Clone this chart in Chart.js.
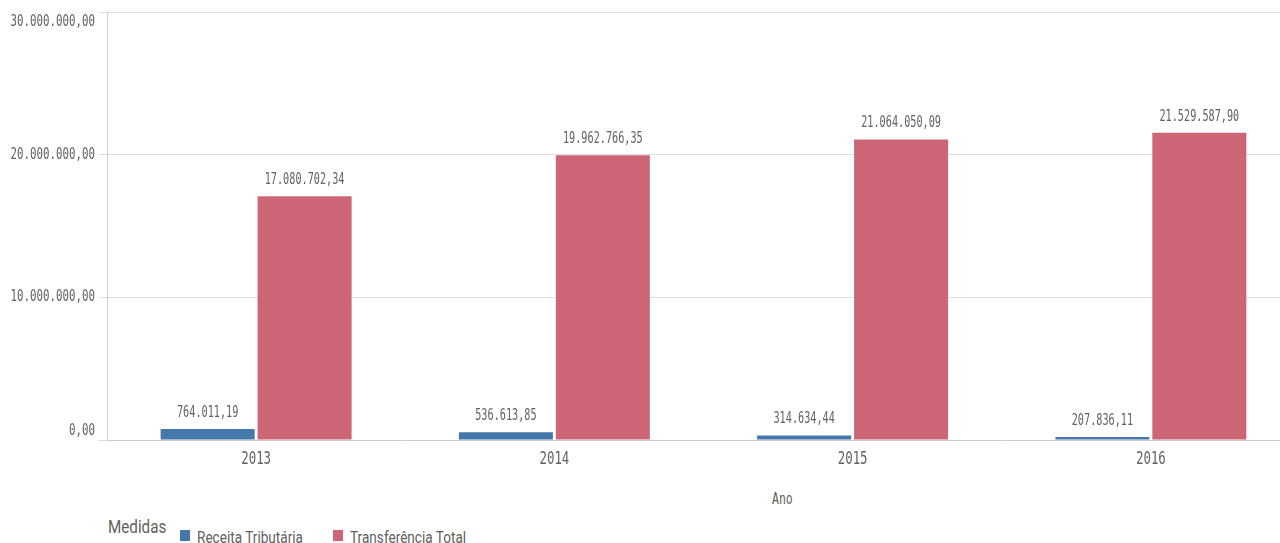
<!DOCTYPE html>
<html>
<head>
<meta charset="utf-8">
<script src="https://cdn.jsdelivr.net/npm/chart.js@4/dist/chart.umd.min.js"></script>
<style>
    body { margin: 0; width: 1280px; height: 543px; overflow: hidden; background: #fff; position: relative; }
    #wrap { position: absolute; left: 0; top: 0; width: 1300px; height: 480px; }
    .cond { position: absolute; transform-origin: 0 50%; white-space: nowrap; line-height: 1; color: #5f5f5f; }
    #ano { left: 772px; top: 489px; font: 16px "DejaVu Sans Mono", monospace; transform: scaleX(0.72); }
    #medidas { left: 108px; top: 515px; font: 19px Roboto, sans-serif; transform: scaleX(0.8); }
    .item { font: 17px Roboto, sans-serif; top: 527px; transform: scaleX(0.8); }
    .box { position: absolute; top: 530px; width: 10px; height: 11px; }
</style>
</head>
<body>
<div id="wrap"><canvas id="chart"></canvas></div>
<div id="ano" class="cond">Ano</div>
<div id="medidas" class="cond">Medidas</div>
<script>
const years = ['2013', '2014', '2015', '2016'];
const receitaTributaria = [764011.19, 536613.85, 314634.44, 207836.11];
const transferenciaTotal = [17080702.34, 19962766.35, 21064050.09, 21529587.90];
const yTicks = [0, 10000000, 20000000, 30000000];
const seriesNames = ['Receita Tributária', 'Transferência Total'];
const seriesColors = ['#4477aa', '#cc6677'];

const fmt = v => v.toLocaleString('pt-BR', { minimumFractionDigits: 2, maximumFractionDigits: 2 });
const textColor = '#626262';

// condensed text, like the Qlik font
function condText(ctx, text, x, y, size, align, sx) {
    ctx.save();
    ctx.font = size + 'px "DejaVu Sans Mono", monospace';
    ctx.textAlign = align;
    ctx.textBaseline = 'middle';
    ctx.translate(x, y);
    ctx.scale(sx, 1);
    ctx.fillText(text, 0, 0);
    ctx.restore();
}

const labelsPlugin = {
    id: 'labels',
    afterDatasetsDraw(chart) {
        const ctx = chart.ctx;
        const area = chart.chartArea;
        ctx.save();
        ctx.fillStyle = textColor;
        // value labels above the bars
        chart.data.datasets.forEach((ds, i) => {
            chart.getDatasetMeta(i).data.forEach((bar, j) => {
                condText(ctx, fmt(ds.data[j]), bar.x, bar.y - 16, 15, 'center', 0.68);
            });
        });
        // y labels, kept inside the plot height
        const y = chart.scales.y;
        yTicks.forEach(v => {
            let py = y.getPixelForValue(v);
            py = Math.min(Math.max(py, area.top + 10), area.bottom - 9);
            condText(ctx, fmt(v), area.left - 12, py, 15, 'right', 0.72);
        });
        // x labels
        const x = chart.scales.x;
        years.forEach((yr, i) => {
            condText(ctx, yr, x.getPixelForValue(i), area.bottom + 20, 17, 'center', 0.73);
        });
        ctx.restore();
    }
};

const chart = new Chart(document.getElementById('chart'), {
    type: 'bar',
    data: {
        labels: years,
        datasets: [
            { label: seriesNames[0], data: receitaTributaria, backgroundColor: seriesColors[0] },
            { label: seriesNames[1], data: transferenciaTotal, backgroundColor: seriesColors[1] }
        ]
    },
    options: {
        responsive: true,
        maintainAspectRatio: false,
        animation: false,
        layout: { padding: { top: 12, right: 0, left: 0, bottom: 0 } },
        datasets: { bar: { categoryPercentage: 0.65, barPercentage: 0.97 } },
        scales: {
            x: {
                grid: { display: false, drawTicks: false },
                border: { color: '#cccccc' },
                ticks: { display: false },
                afterFit: s => { s.height = 40; }
            },
            y: {
                min: 0,
                max: 30000000,
                afterBuildTicks: s => { s.ticks = yTicks.map(v => ({ value: v })); },
                grid: { color: '#dddddd', tickLength: 8 },
                border: { color: '#cccccc' },
                ticks: { display: false },
                afterFit: s => { s.width = 107; }
            }
        },
        plugins: {
            legend: { display: false },
            tooltip: { enabled: false }
        }
    },
    plugins: [labelsPlugin]
});

// legend built from the series arrays
const legendX = [180, 333];
seriesNames.forEach((name, i) => {
    const box = document.createElement('div');
    box.className = 'box';
    box.style.left = legendX[i] + 'px';
    box.style.background = seriesColors[i];
    document.body.appendChild(box);
    const item = document.createElement('div');
    item.className = 'cond item';
    item.style.left = (legendX[i] + 17) + 'px';
    item.textContent = name;
    document.body.appendChild(item);
});
</script>
</body>
</html>
